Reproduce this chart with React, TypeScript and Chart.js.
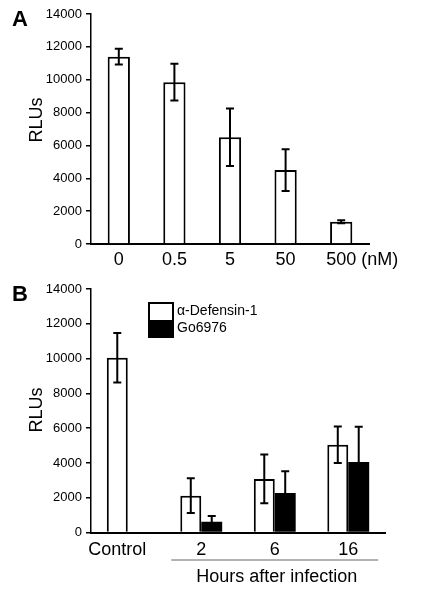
import React, { useEffect, useRef } from "react";
import { Chart, registerables } from "chart.js";

Chart.register(...registerables);

const FONT = "'Liberation Sans', Arial, Helvetica, sans-serif";

// ---- Panel A data ----
const doseLabels = ["0", "0.5", "5", "50", "500"];
const doseUnit = "(nM)";
const doseValues = [11400, 9850, 6500, 4500, 1350];
const doseErrors = [480, 1120, 1750, 1270, 90];

// ---- Panel B data ----
const timeLabels = ["Control", "2", "6", "16"];
const groupTitle = "Hours after infection";
const defensinName = "α-Defensin-1";
const goName = "Go6976";
const defensinValues = [10050, 2120, 3080, 5050];
const defensinErrors = [1420, 1000, 1400, 1050];
const goValues: (number | null)[] = [null, 620, 2270, 4050];
const goErrors: (number | null)[] = [null, 330, 1250, 2030];

const yMin = 0;
const yMax = 14000;
const yStep = 2000;

function makeErrorBars(errors: (number | null)[][]) {
  return {
    id: "errorBars",
    afterDatasetsDraw(chart: any) {
      const ctx = chart.ctx;
      const y = chart.scales.y;
      ctx.save();
      ctx.strokeStyle = "#000";
      ctx.lineWidth = 2;
      chart.data.datasets.forEach((ds: any, di: number) => {
        const meta = chart.getDatasetMeta(di);
        meta.data.forEach((el: any, i: number) => {
          const v = ds.data[i];
          const e = errors[di] ? errors[di][i] : null;
          if (v == null || e == null) return;
          const x = el.x;
          const yt = y.getPixelForValue(v + e);
          const yb = y.getPixelForValue(v - e);
          ctx.beginPath();
          ctx.moveTo(x, yt);
          ctx.lineTo(x, yb);
          ctx.moveTo(x - 4, yt);
          ctx.lineTo(x + 4, yt);
          ctx.moveTo(x - 4, yb);
          ctx.lineTo(x + 4, yb);
          ctx.stroke();
        });
      });
      ctx.restore();
    },
  };
}

function drawYTitle(ctx: any, text: string, x: number, y: number) {
  ctx.save();
  ctx.translate(x, y);
  ctx.rotate(-Math.PI / 2);
  ctx.font = `18px ${FONT}`;
  ctx.fillStyle = "#000";
  ctx.textAlign = "center";
  ctx.textBaseline = "middle";
  ctx.fillText(text, 0, 0);
  ctx.restore();
}

function drawPanelLetter(ctx: any, letter: string) {
  ctx.save();
  ctx.font = `bold 22px ${FONT}`;
  ctx.fillStyle = "#000";
  ctx.textAlign = "left";
  ctx.textBaseline = "alphabetic";
  ctx.fillText(letter, 12, 25.5);
  ctx.restore();
}

const decorA = {
  id: "decorA",
  afterDraw(chart: any) {
    const ctx = chart.ctx;
    const xs = chart.scales.x;
    const by = xs.top + 21;
    ctx.save();
    ctx.font = `18px ${FONT}`;
    ctx.fillStyle = "#000";
    ctx.textBaseline = "alphabetic";
    ctx.textAlign = "center";
    doseLabels.forEach((l, i) => ctx.fillText(l, xs.getPixelForValue(i), by));
    const last = doseLabels.length - 1;
    const px = xs.getPixelForValue(last);
    const w = ctx.measureText(doseLabels[last]).width;
    ctx.textAlign = "left";
    ctx.fillText(doseUnit, px + w / 2 + 5, by);
    ctx.restore();
    drawYTitle(ctx, "RLUs", 37, 120);
    drawPanelLetter(ctx, "A");
  },
};

const decorB = {
  id: "decorB",
  afterDraw(chart: any) {
    const ctx = chart.ctx;
    const xs = chart.scales.x;
    const by = xs.top + 22.5;
    const meta0 = chart.getDatasetMeta(0);
    ctx.save();
    ctx.font = `18px ${FONT}`;
    ctx.fillStyle = "#000";
    ctx.textBaseline = "alphabetic";
    ctx.textAlign = "center";
    timeLabels.forEach((l, i) => {
      const cx = goValues[i] == null ? meta0.data[i].x : xs.getPixelForValue(i);
      ctx.fillText(l, cx, by);
    });
    // group line
    const gx0 = xs.getPixelForValue(1) - 30;
    const gx1 = xs.getPixelForValue(timeLabels.length - 1) + 30;
    ctx.strokeStyle = "#666";
    ctx.lineWidth = 1;
    ctx.beginPath();
    ctx.moveTo(gx0, xs.top + 27.5);
    ctx.lineTo(gx1, xs.top + 27.5);
    ctx.stroke();
    ctx.fillText(groupTitle, (gx0 + gx1) / 2 + 2, xs.top + 49);
    // legend
    const lx = 149, ly = 28, lw = 24, lh = 34;
    ctx.fillStyle = "#fff";
    ctx.fillRect(lx, ly, lw, lh / 2);
    ctx.fillStyle = "#000";
    ctx.fillRect(lx, ly + lh / 2, lw, lh / 2);
    ctx.strokeStyle = "#000";
    ctx.lineWidth = 2;
    ctx.strokeRect(lx, ly, lw, lh);
    ctx.font = `14px ${FONT}`;
    ctx.textAlign = "left";
    ctx.textBaseline = "middle";
    ctx.fillText(defensinName, 177, 36);
    ctx.fillText(goName, 177, 53);
    ctx.restore();
    drawYTitle(ctx, "RLUs", 37, 135);
    drawPanelLetter(ctx, "B");
  },
};

function yScale() {
  return {
    min: yMin,
    max: yMax,
    afterFit: (s: any) => {
      s.width = 91;
    },
    ticks: {
      stepSize: yStep,
      color: "#000",
      padding: 4,
      font: { family: FONT, size: 13 },
      callback: (v: any) => String(v),
    },
    grid: {
      drawOnChartArea: false,
      drawTicks: true,
      tickLength: 5,
      color: "#000",
      lineWidth: 1.5,
    },
    border: { display: true, color: "#000", width: 1.5 },
  };
}

export default function App() {
  const refA = useRef<HTMLCanvasElement>(null);
  const refB = useRef<HTMLCanvasElement>(null);

  useEffect(() => {
    const chartA = new Chart(refA.current as HTMLCanvasElement, {
      type: "bar",
      data: {
        labels: doseLabels,
        datasets: [
          {
            data: doseValues,
            backgroundColor: "#fff",
            borderColor: "#000",
            borderWidth: 2,
            barPercentage: 0.4,
            categoryPercentage: 1,
          },
        ],
      },
      options: {
        animation: false,
        responsive: false,
        layout: { padding: { top: 14, right: 56, left: 0, bottom: 0 } },
        plugins: { legend: { display: false }, tooltip: { enabled: false } },
        scales: {
          x: {
            afterFit: (s: any) => {
              s.height = 46;
            },
            ticks: { display: false },
            grid: { display: false },
            border: { display: true, color: "#000", width: 2 },
          },
          y: yScale() as any,
        },
      },
      plugins: [makeErrorBars([doseErrors]), decorA],
    });

    const chartB = new Chart(refB.current as HTMLCanvasElement, {
      type: "bar",
      data: {
        labels: timeLabels,
        datasets: [
          {
            label: defensinName,
            data: defensinValues,
            backgroundColor: "#fff",
            borderColor: "#000",
            borderWidth: 2,
            barPercentage: 1,
            categoryPercentage: 0.57,
          },
          {
            label: goName,
            data: goValues,
            backgroundColor: "#000",
            borderColor: "#000",
            borderWidth: 0,
            barPercentage: 1,
            categoryPercentage: 0.57,
          },
        ],
      },
      options: {
        animation: false,
        responsive: false,
        layout: { padding: { top: 14, right: 40, left: 0, bottom: 0 } },
        plugins: { legend: { display: false }, tooltip: { enabled: false } },
        scales: {
          x: {
            afterFit: (s: any) => {
              s.height = 74.5;
            },
            ticks: { display: false },
            grid: { display: false },
            border: { display: true, color: "#000", width: 2 },
          },
          y: yScale() as any,
        },
      },
      plugins: [makeErrorBars([defensinErrors, goErrors]), decorB],
    });

    return () => {
      chartA.destroy();
      chartB.destroy();
    };
  }, []);

  return (
    <div style={{ position: "absolute", left: 0, top: 0, width: 425, height: 607, background: "#fff" }}>
      <canvas
        ref={refA}
        width={425}
        height={290}
        style={{ position: "absolute", left: 0, top: 0, width: 425, height: 290 }}
      />
      <canvas
        ref={refB}
        width={425}
        height={332}
        style={{ position: "absolute", left: 0, top: 275, width: 425, height: 332 }}
      />
    </div>
  );
}
